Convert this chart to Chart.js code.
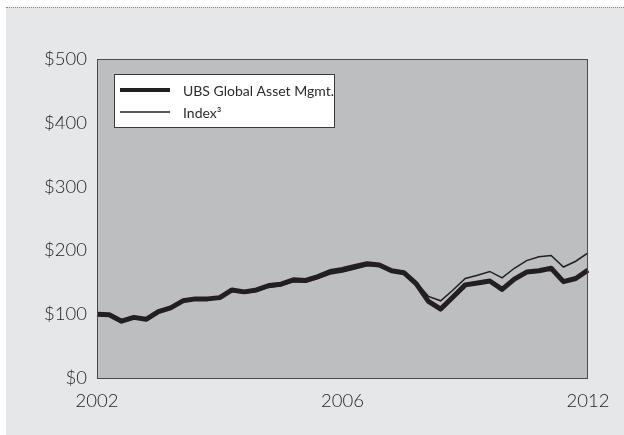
<!DOCTYPE html>
<html>
<head>
<meta charset="utf-8">
<script src="https://cdn.jsdelivr.net/npm/chart.js@4.4.0/dist/chart.umd.min.js"></script>
<style>
    body { margin: 0; background: #ffffff; }
    #quadro {
        position: absolute;
        left: 6px;
        top: 7px;
        width: 618px;
        height: 427px;
        background: #e6e7e8;
        border-top: 1px dotted #8a8a8a;
    }
    #quadro canvas { display: block; }
</style>
</head>
<body>
<div id="quadro">
    <canvas id="myChartFundo" width="618" height="427"></canvas>
</div>
<script>
// eixo x: um ponto por trimestre, rotulo so em alguns
const xLabels = ['2002', '', '', '', '', '', '', '', '', '', '', '', '', '', '', '', '', '', '', '',
    '2006', '', '', '', '', '', '', '', '', '', '', '', '', '', '', '', '', '', '', '',
    '2012'];

const ubsValues = [100, 99, 89, 95, 92, 104, 110, 121, 124, 124, 126, 138, 135, 138, 145, 147, 154, 153, 159, 167,
    170, 175, 179, 177, 168, 165, 148, 120, 108, 127, 146, 149, 152, 139, 155, 166, 168, 172, 151, 156, 169];

const indexValues = [100, 99, 89, 95, 92, 104, 110, 121, 124, 124, 126, 136, 133, 136, 142, 145, 151, 150, 156, 163,
    166, 171, 176, 176, 168, 165, 150, 128, 121, 138, 156, 161, 167, 157, 172, 184, 190, 192, 174, 183, 196];

const yTicks = [0, 100, 200, 300, 400, 500];

const seriesNames = ['UBS Global Asset Mgmt.', 'Index\u00B3'];

const corTexto = '#1f1f1f';
const corLinha = '#231f20';

// fundo cinza e moldura da area do grafico
const fundoPlugin = {
    id: 'fundoPlugin',
    beforeDatasetsDraw(chart) {
        const { ctx, chartArea } = chart;
        ctx.save();
        ctx.fillStyle = '#bdbec0';
        ctx.fillRect(chartArea.left, chartArea.top, chartArea.width, chartArea.height);
        ctx.restore();
    },
    afterDraw(chart) {
        const { ctx, chartArea } = chart;
        ctx.save();
        ctx.strokeStyle = '#4a4a4a';
        ctx.lineWidth = 1;
        ctx.strokeRect(chartArea.left + 0.5, chartArea.top + 0.5, chartArea.width - 1, chartArea.height);
        ctx.restore();
    }
};

// legenda dentro do grafico, caixa branca
const legendaPlugin = {
    id: 'legendaPlugin',
    afterDraw(chart) {
        const ctx = chart.ctx;
        const x = 108, y = 66, w = 220, h = 53;
        ctx.save();
        ctx.fillStyle = '#ffffff';
        ctx.fillRect(x, y, w, h);
        ctx.strokeStyle = '#3a3a3a';
        ctx.lineWidth = 1;
        ctx.strokeRect(x + 0.5, y + 0.5, w, h);
        ctx.font = '14px Lato';
        ctx.textBaseline = 'middle';
        chart.data.datasets.forEach((ds, i) => {
            const ly = y + 16 + i * 22;
            ctx.strokeStyle = ds.borderColor;
            ctx.lineWidth = i == 0 ? 4 : 1.3;
            ctx.beginPath();
            ctx.moveTo(x + 6, ly);
            ctx.lineTo(x + 56, ly);
            ctx.stroke();
            ctx.fillStyle = '#2b2b2b';
            ctx.fillText(ds.label, x + 69, ly + 1);
        });
        ctx.restore();
    }
};

const ctxFundo = document.getElementById('myChartFundo');
const dataFundo = {
    labels: xLabels,
    datasets: [{
        label: seriesNames[0],
        data: ubsValues,
        borderColor: corLinha,
        borderWidth: 5,
        pointRadius: 0,
        tension: 0,
        fill: false,
        borderJoinStyle: 'round'
    }, {
        label: seriesNames[1],
        data: indexValues,
        borderColor: corLinha,
        borderWidth: 1.5,
        pointRadius: 0,
        tension: 0,
        fill: false
    }]
};
const configFundo = {
    type: 'line',
    data: dataFundo,
    options: {
        responsive: false,
        animation: false,
        layout: {
            padding: { top: 51, right: 36, left: 0, bottom: 0 }
        },
        plugins: {
            legend: { display: false },
            tooltip: { enabled: false }
        },
        scales: {
            x: {
                offset: false,
                grid: { display: false, drawTicks: false },
                border: { display: false },
                afterFit: (s) => { s.height = 57; },
                ticks: {
                    autoSkip: false,
                    maxRotation: 0,
                    padding: 12,
                    color: corTexto,
                    font: { family: 'Lato', size: 18.5, weight: 300 },
                    callback: (v, i) => xLabels[i]
                }
            },
            y: {
                min: 0,
                max: 500,
                grid: { display: false, drawTicks: false },
                border: { display: false },
                afterFit: (s) => { s.width = 91; },
                afterBuildTicks: (s) => { s.ticks = yTicks.map(v => ({ value: v })); },
                ticks: {
                    padding: 10,
                    color: corTexto,
                    font: { family: 'Lato', size: 18.5, weight: 300 },
                    callback: (v) => '$' + v
                }
            }
        }
    },
    plugins: [fundoPlugin, legendaPlugin]
};

new Chart(ctxFundo, configFundo);
</script>
</body>
</html>
